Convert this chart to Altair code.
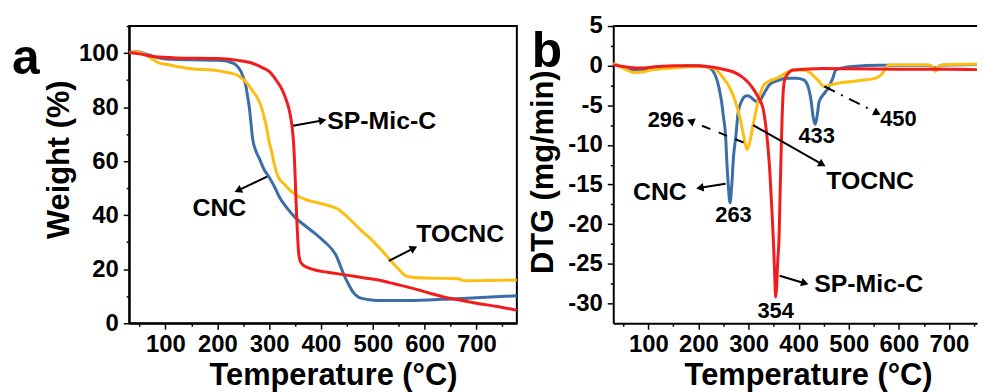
import math
import altair as alt
import pandas as pd

FONT = "Liberation Sans"
SERIES = ["CNC", "TOCNC", "SP-Mic-C"]
COLORS = ["#3b6ea8", "#fdbe12", "#f21c1c"]

# ---------------- panel a : TG ----------------
tg_sp_t = [30, 50, 80, 120, 200, 240, 265, 285, 300, 316, 325, 332, 338, 342, 345, 347, 349, 351, 353,
           355, 357, 360, 364, 370, 377, 390, 415, 450, 479, 511, 543, 575, 607, 639, 670, 700, 740, 778]
tg_sp_w = [100.2, 99.7, 98.6, 98.2, 98.0, 97.3, 96.4, 94.8, 93.2, 89.3, 86.5, 83.2, 79.5, 75.8, 71.5, 67.2,
           60.0, 50.0, 40.0, 32.0, 26.0, 23.0, 21.8, 21.0, 20.4, 19.6, 18.8, 17.8, 16.9, 16.0, 14.5, 13.0,
           11.3, 9.6, 8.5, 7.4, 6.2, 4.8]

tg_cnc_t = [30, 45, 60, 80, 100, 150, 200, 214, 225, 233, 240, 246, 251, 255, 258, 262, 265, 268, 275, 281,
            290, 300, 313, 319, 335, 351, 370, 390, 405, 421, 428, 434, 443, 453, 462, 473, 490, 511, 550,
            607, 650, 700, 778]
tg_cnc_w = [100.2, 100.5, 99.8, 98.5, 97.8, 97.5, 97.3, 97.1, 96.6, 96.0, 94.8, 93.0, 90.5, 88.0, 84.5, 79.5,
            74.0, 68.5, 63.5, 61.0, 57.0, 54.0, 49.5, 47.0, 42.5, 39.0, 36.0, 33.0, 30.5, 27.4, 25.5, 23.0,
            18.5, 14.5, 11.5, 9.6, 8.8, 8.4, 8.4, 8.6, 9.0, 9.4, 10.2]

tg_to_t = [30, 45, 60, 86, 110, 150, 200, 214, 230, 239, 248, 258, 268, 278, 285, 291, 296, 300, 305, 310,
           318, 329, 340, 351, 370, 396, 415, 434, 450, 479, 500, 524, 545, 568, 600, 640, 664, 677, 720, 778]
tg_to_w = [100.2, 100.4, 99.5, 96.5, 95.5, 94.2, 93.5, 93.0, 92.4, 91.8, 90.5, 88.7, 86.0, 83.2, 80.0, 75.8,
           71.5, 67.2, 63.5, 58.7, 54.0, 51.5, 49.3, 47.6, 45.8, 44.5, 43.5, 42.1, 39.5, 34.1, 30.5, 25.5,
           21.0, 17.2, 16.7, 16.6, 16.5, 15.7, 15.8, 16.0]

# ---------------- panel b : DTG ----------------
dtg_sp_t = [30, 50, 80, 120, 150, 200, 230, 256, 270, 289, 302, 309, 316, 322, 329, 336, 342, 346, 349, 352,
            354, 356, 358, 361, 363, 365, 367, 369, 372, 380, 389, 450, 500, 600, 700, 756]
dtg_sp_d = [0.1, -0.1, -0.3, -0.1, 0.0, 0.0, -0.2, -0.55, -0.8, -1.5, -2.3, -2.9, -3.6, -4.3, -5.4, -8.5,
            -12.9, -17.5, -21.3, -26.0, -29.2, -28.0, -25.0, -21.5, -16.0, -11.0, -6.5, -3.5, -1.8, -0.9,
            -0.55, -0.35, -0.4, -0.45, -0.45, -0.5]

dtg_cnc_t = [30, 50, 71, 100, 120, 150, 180, 216, 228, 236, 241, 246, 250, 254, 257, 260, 263, 266, 270, 275,
             279, 286, 292, 299, 305, 312, 320, 330, 342, 358, 375, 395, 410, 418, 425, 429, 433, 437, 441,
             450, 458, 468, 474, 490, 508, 560, 660, 673, 685, 756]
dtg_cnc_d = [0.3, -0.2, -0.55, -0.45, -0.3, -0.15, 0.0, -0.1, -0.6, -1.6, -2.8, -4.5, -6.5, -8.7, -12.5,
             -15.5, -17.3, -15.5, -11.5, -8.7, -6.0, -4.5, -3.9, -3.8, -4.0, -4.4, -4.6, -3.6, -2.4, -1.9,
             -1.6, -1.6, -1.8, -2.5, -4.5, -6.5, -7.4, -6.3, -4.5, -3.6, -2.9, -1.6, -0.55, -0.25, -0.1,
             0.05, 0.05, -0.3, 0.05, 0.15]

dtg_to_t = [30, 50, 71, 90, 105, 150, 200, 230, 240, 250, 260, 269, 276, 283, 290, 297, 303, 309, 314, 319,
            324, 329, 340, 355, 370, 389, 408, 418, 425, 433, 441, 446, 451, 458, 465, 480, 508, 530, 545,
            560, 568, 574, 580, 600, 660, 668, 673, 678, 690, 756]
dtg_to_d = [0.3, -0.3, -0.85, -0.8, -0.55, -0.3, -0.1, -0.3, -0.8, -1.6, -2.5, -3.7, -5.0, -6.6, -8.8,
            -10.6, -9.5, -7.5, -6.0, -4.5, -3.4, -2.6, -2.0, -1.6, -1.1, -0.55, -0.55, -0.7, -1.0, -1.5,
            -2.0, -2.4, -2.65, -2.5, -2.4, -2.2, -2.0, -1.8, -1.7, -1.4, -0.9, -0.3, 0.1, 0.1, 0.1, -0.2,
            -0.75, -0.1, 0.1, 0.2]

# ---------------- axes ----------------
a_x_dom = [30, 778]
a_y_dom = [0, 110]
b_x_dom = [30, 756]
b_y_dom = [-32.5, 5]
a_x_ticks = list(range(50, 751, 50))
a_y_ticks = list(range(0, 111, 10))
b_x_ticks = list(range(50, 751, 50))
b_y_ticks = [v / 2 for v in range(-60, 11, 5)]

# ---------------- annotations ----------------
a_arrow_x1 = [346, 296, 531]
a_arrow_y1 = [73.1, 54.3, 23.1]
a_arrow_x2 = [411, 233, 586]
a_arrow_y2 = [75.3, 48.5, 28.4]
a_lbl_left_text = ["SP-Mic-C", "TOCNC"]
a_lbl_left_x = [412, 584]
a_lbl_left_y = [75.0, 33.0]
a_lbl_center_text = ["CNC"]
a_lbl_center_x = [204]
a_lbl_center_y = [42.6]

b_solid_x1 = [254, 309, 362]
b_solid_y1 = [-14.9, -7.5, -26.5]
b_solid_x2 = [195, 454, 420]
b_solid_y2 = [-15.5, -12.7, -27.6]
b_dash_x1, b_dash_y1, b_dash_x2, b_dash_y2 = [290], [-9.7], [177], [-6.8]
b_dd_x1, b_dd_y1, b_dd_x2, b_dd_y2 = [451], [-2.6], [564], [-6.2]
b_name_left_text = ["SP-Mic-C", "TOCNC"]
b_name_left_x = [431, 455]
b_name_left_y = [-27.6, -14.5]
b_name_center_text = ["CNC"]
b_name_center_x = [123]
b_name_center_y = [-15.9]
b_num_text = ["296", "263", "354", "433", "450"]
b_num_x = [135, 270, 354, 436, 599]
b_num_y = [-6.9, -18.8, -30.9, -8.9, -6.7]

A_W, A_H = 390, 299
B_W, B_H = 366, 299


def long_df(pairs):
    rows = []
    for name, ts, vs in pairs:
        for i, (t, v) in enumerate(zip(ts, vs)):
            rows.append({"T": t, "V": v, "series": name, "i": i})
    return pd.DataFrame(rows)


def make_enc(xdom, ydom, xaxis, yaxis):
    xs = alt.Scale(domain=xdom, nice=False, zero=False)
    ys = alt.Scale(domain=ydom, nice=False, zero=False)

    def X(f):
        return alt.X(f, type="quantitative", scale=xs, axis=xaxis)

    def Y(f):
        return alt.Y(f, type="quantitative", scale=ys, axis=yaxis)
    return X, Y


def arrows(x1s, y1s, x2s, y2s, X, Y, sx, sy, dash=None):
    rows, heads = [], []
    for a, b, c, d in zip(x1s, y1s, x2s, y2s):
        dx = (c - a) * sx
        dy = -(d - b) * sy
        L = math.hypot(dx, dy)
        ux, uy = dx / L, dy / L
        rows.append({"x1": a, "y1": b, "x2": c - ux * 6 / sx, "y2": d + uy * 6 / sy})
        heads.append({"hx": c - ux * 4 / sx, "hy": d + uy * 4 / sy,
                      "ang": math.degrees(math.atan2(dy, dx)) % 360})
    kw = {"color": "black", "strokeWidth": 2}
    if dash is not None:
        kw["strokeDash"] = dash
    line = alt.Chart(pd.DataFrame(rows)).mark_rule(**kw).encode(
        x=X("x1"), y=Y("y1"), x2="x2", y2="y2")
    head = alt.Chart(pd.DataFrame(heads)).mark_point(
        shape="triangle-right", filled=True, color="black", size=75, opacity=1).encode(
        x=X("hx"), y=Y("hy"), angle=alt.Angle("ang:Q", scale=None))
    return [line, head]


def texts(ts, xs, ys, X, Y, align, size):
    df = pd.DataFrame({"tx": xs, "ty": ys, "label": ts})
    return alt.Chart(df).mark_text(align=align, baseline="middle", font=FONT, fontWeight="bold",
                                   fontSize=size, color="black").encode(
        x=X("tx"), y=Y("ty"), text="label:N")


color_enc = alt.Color("series:N", scale=alt.Scale(domain=SERIES, range=COLORS), legend=None)

# ---------------- panel a ----------------
a_xaxis = alt.Axis(title="Temperature (°C)", values=a_x_ticks,
                   labelExpr="datum.value % 100 === 0 ? '' + datum.value : ''",
                   tickSize={"condition": {"test": "datum.value % 100 === 0", "value": 6}, "value": 3},
                   labelPadding=3, labelFlush=False, labelOverlap=False,
                   titleBaseline="alphabetic", titleY=62, titleX=205)
a_yaxis = alt.Axis(title="Weight (%)", values=a_y_ticks,
                   labelExpr="(datum.value % 20 === 0 && datum.value <= 100) ? '' + datum.value : ''",
                   tickSize={"condition": {"test": "datum.value % 20 === 0", "value": 6}, "value": 3},
                   labelPadding=5, labelFlush=False, labelOverlap=False,
                   titleAngle=270, titleBaseline="alphabetic", titleAlign="center", titleX=-61, titleY=134)
aX, aY = make_enc(a_x_dom, a_y_dom, a_xaxis, a_yaxis)
a_df = long_df([("CNC", tg_cnc_t, tg_cnc_w), ("TOCNC", tg_to_t, tg_to_w), ("SP-Mic-C", tg_sp_t, tg_sp_w)])
a_lines = alt.Chart(a_df).mark_line(strokeWidth=3, interpolate="monotone").encode(
    x=aX("T"), y=aY("V"), color=color_enc, order="i:Q")
a_sx, a_sy = A_W / (a_x_dom[1] - a_x_dom[0]), A_H / (a_y_dom[1] - a_y_dom[0])
a_layers = [a_lines]
a_layers += arrows(a_arrow_x1, a_arrow_y1, a_arrow_x2, a_arrow_y2, aX, aY, a_sx, a_sy)
a_layers.append(texts(a_lbl_left_text, a_lbl_left_x, a_lbl_left_y, aX, aY, "left", 25))
a_layers.append(texts(a_lbl_center_text, a_lbl_center_x, a_lbl_center_y, aX, aY, "center", 25))
a_letter = alt.Chart(pd.DataFrame({"t": ["a"]})).mark_text(
    align="left", baseline="alphabetic", font=FONT, fontWeight="bold", fontSize=50, color="black").encode(
    x=alt.value(-118), y=alt.value(48), text="t:N")
anchor = alt.Chart(pd.DataFrame({"t": ["a"]})).mark_rule(opacity=0, strokeWidth=0.01).encode(
    x=alt.value(-129), y=alt.value(-24), y2=alt.value(367))
a_layers += [a_letter, anchor]
panel_a = alt.layer(*a_layers).properties(
    width=A_W, height=A_H, view=alt.ViewBackground(stroke="black", strokeWidth=2))

# ---------------- panel b ----------------
b_xaxis = alt.Axis(title="Temperature (°C)", values=b_x_ticks,
                   labelExpr="datum.value % 100 === 0 ? '' + datum.value : ''",
                   tickSize={"condition": {"test": "datum.value % 100 === 0", "value": 6}, "value": 3},
                   labelPadding=3, labelFlush=False, labelOverlap=False,
                   titleBaseline="alphabetic", titleY=62, titleX=196)
b_yaxis = alt.Axis(title="DTG (mg/min)", values=b_y_ticks,
                   labelExpr="datum.value % 5 === 0 ? '' + datum.value : ''",
                   tickSize={"condition": {"test": "datum.value % 5 === 0", "value": 6}, "value": 3},
                   labelPadding=5, labelFlush=False, labelOverlap=False,
                   titleAngle=270, titleBaseline="alphabetic", titleAlign="left", titleX=-61, titleY=249)
bX, bY = make_enc(b_x_dom, b_y_dom, b_xaxis, b_yaxis)
b_df = long_df([("CNC", dtg_cnc_t, dtg_cnc_d), ("TOCNC", dtg_to_t, dtg_to_d), ("SP-Mic-C", dtg_sp_t, dtg_sp_d)])
b_lines = alt.Chart(b_df).mark_line(strokeWidth=3, interpolate="monotone").encode(
    x=bX("T"), y=bY("V"), color=color_enc, order="i:Q")
b_sx, b_sy = B_W / (b_x_dom[1] - b_x_dom[0]), B_H / (b_y_dom[1] - b_y_dom[0])
b_layers = [b_lines]
b_layers += arrows(b_solid_x1, b_solid_y1, b_solid_x2, b_solid_y2, bX, bY, b_sx, b_sy)
b_layers += arrows(b_dash_x1, b_dash_y1, b_dash_x2, b_dash_y2, bX, bY, b_sx, b_sy, dash=[9, 9])
b_layers += arrows(b_dd_x1, b_dd_y1, b_dd_x2, b_dd_y2, bX, bY, b_sx, b_sy, dash=[12, 7, 2, 7])
b_layers.append(texts(b_name_left_text, b_name_left_x, b_name_left_y, bX, bY, "left", 25))
b_layers.append(texts(b_name_center_text, b_name_center_x, b_name_center_y, bX, bY, "center", 25))
b_layers.append(texts(b_num_text, b_num_x, b_num_y, bX, bY, "center", 22))
top_line = alt.Chart(pd.DataFrame({"t": ["a"]})).mark_rule(color="black", strokeWidth=2).encode(
    x=alt.value(0), x2=alt.value(B_W), y=alt.value(0))
b_letter = alt.Chart(pd.DataFrame({"t": ["b"]})).mark_text(
    align="left", baseline="alphabetic", font=FONT, fontWeight="bold", fontSize=50, color="black").encode(
    x=alt.value(-82), y=alt.value(41), text="t:N")
b_layers += [top_line, b_letter]
panel_b = alt.layer(*b_layers).properties(
    width=B_W, height=B_H, view=alt.ViewBackground(stroke="transparent"))

chart = alt.hconcat(panel_a, panel_b, spacing=97, bounds="flush").properties(
    padding=0, autosize=alt.AutoSizeParams(type="pad"), background="white"
).configure_axis(
    labelFont=FONT, labelFontSize=24, labelFontWeight="bold", labelColor="black",
    titleFont=FONT, titleFontSize=31, titleFontWeight="bold", titleColor="black",
    domainColor="black", domainWidth=2, tickColor="black", tickWidth=1.5, grid=False
).configure_view(stroke="black", strokeWidth=2)

chart.save("out.html", embed_options={"renderer": "svg", "actions": False})
